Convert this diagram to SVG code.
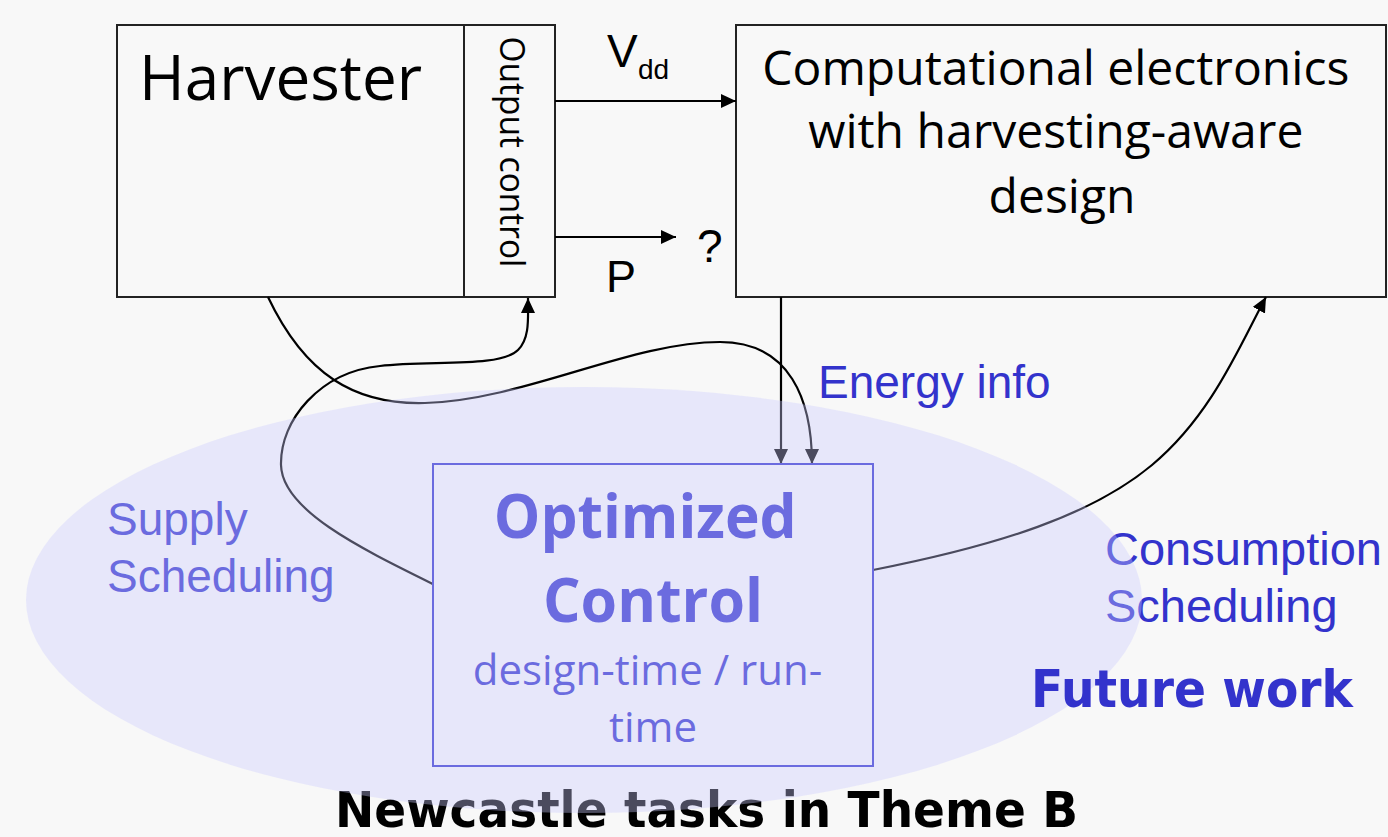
<svg xmlns="http://www.w3.org/2000/svg" width="1388" height="837" viewBox="0 0 1388 837">
<defs>
<style>
.box{fill:none;stroke:#222;stroke-width:2}
.seg{font-family:"Open Sans","Noto Sans",sans-serif;fill:#000}
.ari{font-family:"Liberation Sans",Arial,sans-serif}
.blue{fill:#3333cc}
.conn{fill:none;stroke:#000;stroke-width:2.2}
.vb{font-family:"DejaVu Sans",Verdana,sans-serif;font-weight:bold}
</style>
<marker id="arr" markerUnits="userSpaceOnUse" markerWidth="16" markerHeight="14" refX="15" refY="7" orient="auto">
<path d="M0,0 L15,7 L0,14 z" fill="#000"/>
</marker>
</defs>
<rect width="1388" height="837" fill="#f8f8f8"/>

<g id="harvester">
<rect class="box" x="117" y="25" width="438" height="272"/>
<line x1="464" y1="25" x2="464" y2="297" stroke="#222" stroke-width="2"/>
<text class="seg" x="139" y="100" font-size="62">Harvester</text>
<text class="seg" font-size="35" transform="translate(500,152) rotate(90)" text-anchor="middle" textLength="231" lengthAdjust="spacingAndGlyphs">Output control</text>
</g>

<g id="computational">
<rect class="box" x="736" y="25" width="650" height="272"/>
<text class="seg" font-size="48" text-anchor="middle">
<tspan x="1062" y="85">Computational electronics</tspan>
<tspan x="1062" y="148">with harvesting-aware</tspan>
<tspan x="1062" y="213">design</tspan>
</text>
</g>

<g id="connectors">
<line class="conn" x1="555" y1="101" x2="736" y2="101" marker-end="url(#arr)"/>
<line class="conn" x1="555" y1="237" x2="676" y2="237" marker-end="url(#arr)"/>
<line class="conn" x1="781" y1="297" x2="781" y2="464" marker-end="url(#arr)"/>
<path class="conn" d="M268,297 C305,375 355,405 425,403 C525,400 630,342 720,342 C790,342 812,400 812,464" marker-end="url(#arr)"/>
<path class="conn" d="M433,584 C360,548 282,510 281,465 C280,420 320,372 380,366 C430,360 500,368 518,350 C530,338 528,318 528,298" marker-end="url(#arr)"/>
<path class="conn" d="M873,570 C1000,545 1092,515 1152,465 C1212,415 1240,345 1266,297" marker-end="url(#arr)"/>
<text class="ari" x="607" y="67" font-size="46">V</text>
<text class="ari" x="638" y="79" font-size="28">dd</text>
<text class="ari" x="606" y="292" font-size="45">P</text>
<text class="ari" x="697" y="262" font-size="46">?</text>
<text class="ari blue" x="818" y="398" font-size="46">Energy info</text>
</g>

<g id="optimized-control">
<rect x="433" y="464" width="440" height="302" fill="none" stroke="#3333cc" stroke-width="2"/>
<text class="seg blue" font-weight="bold" font-size="60" text-anchor="middle">
<tspan x="653" y="538" textLength="303" lengthAdjust="spacingAndGlyphs">Optimized</tspan>
<tspan x="653" y="622" textLength="220" lengthAdjust="spacingAndGlyphs">Control</tspan>
</text>
<text class="seg blue" font-size="42" text-anchor="middle">
<tspan x="653" y="685">design-time / run-</tspan>
<tspan x="653" y="742">time</tspan>
</text>
</g>

<g id="supply-scheduling">
<text class="ari blue" font-size="46"><tspan x="107" y="535">Supply</tspan><tspan x="107" y="592">Scheduling</tspan></text>
</g>

<g id="consumption-scheduling">
<text class="ari blue" font-size="47"><tspan x="1105" y="565">Consumption</tspan><tspan x="1105" y="622">Scheduling</tspan></text>
</g>

<g id="caption">
<text class="vb" x="335" y="827" font-size="50" fill="#000" textLength="743" lengthAdjust="spacingAndGlyphs">Newcastle tasks in Theme B</text>
</g>

<g id="region-newcastle">
<ellipse cx="584" cy="600" rx="558" ry="213" fill="rgb(203,203,254)" fill-opacity="0.37"/>
</g>

<g id="future-work">
<text class="vb blue" x="1031" y="707" font-size="52" textLength="322" lengthAdjust="spacingAndGlyphs">Future work</text>
</g>
</svg>
